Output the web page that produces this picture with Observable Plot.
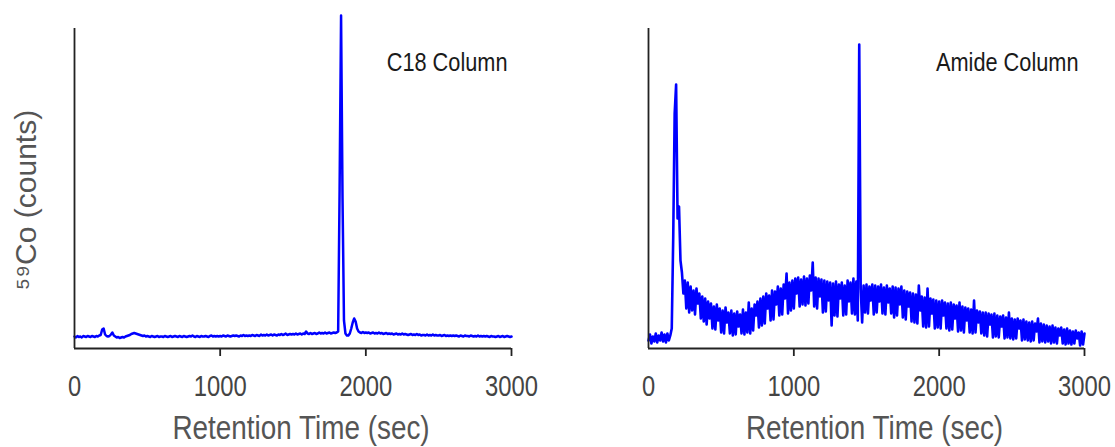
<!DOCTYPE html>
<html><head><meta charset="utf-8">
<script src="https://cdn.jsdelivr.net/npm/d3@7"></script>
<script src="https://cdn.jsdelivr.net/npm/@observablehq/plot@0.6"></script>
<style>
body{margin:0;background:#fff;}
#wrap{display:flex;width:1115px;height:447px;overflow:hidden;}
#wrap svg{overflow:visible;}
</style></head><body><div id="wrap"></div>
<script>
// sampling interval of the traces (seconds)
const timeStep = 10;

// C18 column trace, 59Co counts (arbitrary units), one value per 10 s from 0 to 3000 s
const c18Counts = [
12,11,12.5,11.5,12,11,12.5,12,11.5,12.5,
12,11.5,12.5,12,11.5,12.5,12,13,13.5,19,
20,14,12.5,12,12.5,14,16,13,12,11,
11.5,10.5,11,11.5,11,12,12.5,13,13.5,14.5,
15,15.5,15,14.5,14,13.5,13,12.5,13,12,
12.5,12,11.5,12.5,12,11.5,12,12.5,11.5,12,
12,11.5,12.5,12,11.5,12,12.5,11.5,12,12.5,
12,11.5,12.5,12,11.5,12.5,12,11.5,12,12.5,
12,13,12,11.5,12.5,12,11.5,12.5,12,12,
12.5,12,11.5,12.5,13,12,12.5,12,12.5,12,
12.5,12,13,12.5,12,13,12.5,12,12.5,13,
12.5,13,12.5,12,13,12.5,13.5,12.5,13,12.5,
13,12.5,13.5,13,12.5,13.5,13,12.5,14,13,
13.5,13,14,13,13.5,14,13,14,13.5,13,
14,13.5,14.5,13.5,14,15,13.5,14,14.5,14,
14.5,14,15,14,14.5,15,14,15,14.5,17,
15,14.5,15.5,14.5,15,15.5,14.5,15,16,15,
15.5,15,16,15,15.5,16,15,15.5,16,15.5,
16,17,160,333,150,28,15,13,13,15,
20,26,30,27,20,17,16,15.5,16.5,15.5,
16,15.5,16,15,15.5,16,15,15.5,15,16,
15,15.5,14.5,15,15.5,14.5,15,14.5,15,14,
14.5,15,14,14.5,14,15,14,14.5,14,13.5,
14,14.5,13.5,14,13.5,14.5,13.5,14,13,13.5,
13.5,13,14,13,13.5,13,14,13,13.5,13,
13,13.5,12.5,13,13.5,12.5,13,12.5,13,12.5,
13,12.5,13,12.5,12,13,12.5,12,13,12.5,
12.5,12,13,12.5,12,12.5,12,13,12,12.5,
12,12.5,12,12.5,12,11.5,12.5,12,12,11.5,
12,12.5,11.5,12,12.5,11.5,12,12.5,12,11.5,
12
];

// Amide column trace, 59Co counts (arbitrary units), one value per 10 s from 0 to 3000 s
const amideCounts = [
8,14,5,12,7,15,6,13,8,16,
7,14,6,15,8,13,20,110,235,264,
130,142,88,76,55,68,40,66,36,62,
38,58,34,60,45,55,30,52,27,50,
24,47,30,45,20,42,19,44,28,40,
16,38,15,41,26,36,15,38,13,35,
14,37,22,34,15,39,14,36,16,46,
15,40,18,44,33,47,21,50,23,52,
25,55,40,53,28,58,29,57,44,62,
33,60,34,64,50,75,35,66,38,68,
40,70,55,71,42,69,44,72,43,70,
45,73,58,86,42,71,40,70,52,69,
36,68,37,67,48,66,23,65,33,67,
32,64,50,66,33,63,34,68,47,66,
35,70,34,67,28,304,60,26,63,36,
64,35,62,48,64,34,63,36,62,47,
64,35,61,34,63,46,60,35,62,31,
61,33,60,44,62,31,58,29,57,42,
56,27,55,26,54,25,63,38,52,22,
51,21,60,22,50,35,49,20,48,21,
47,20,48,33,46,20,45,18,46,19,
44,30,43,17,46,18,42,16,41,28,
40,16,39,15,48,16,38,26,37,15,
36,13,36,12,35,24,34,11,35,12,
33,11,32,22,33,10,31,11,36,10,
30,9,29,10,30,20,28,8,29,9,
27,8,26,7,27,8,25,17,30,6,
25,7,24,6,23,7,22,5,23,6,
21,5,20,13,21,5,19,4,20,5,
18,4,17,5,18,10,16,3,17,4,
15
];

const panelLabels = ["C18 Column", "Amide Column"];
const xTicks = [0, 1000, 2000, 3000];
const xTitle = "Retention Time (sec)";
const yTitle = "\u2075\u2079Co (counts)";

const FONT = "'Liberation Sans', Arial, Helvetica, sans-serif";

function panel({values, label, width, marginLeft, marginRight, labelDx, withYTitle, lineWidth}) {
  const data = values.map((v, i) => ({t: i * timeStep, v}));
  const marks = [
    Plot.line(data, {x: "t", y: "v", stroke: "#0000ff", strokeWidth: lineWidth}),
    Plot.ruleX([0], {stroke: "#222", strokeWidth: 1.8}),
    Plot.ruleY([0], {stroke: "#222", strokeWidth: 1.8}),
    Plot.axisX({ticks: xTicks.slice(1), tickSize: 8, tickFormat: () => "", stroke: "#222", strokeWidth: 1.8, label: null}),
    Plot.text(xTicks, {x: d => d, text: d => String(d), frameAnchor: "bottom", lineAnchor: "middle", dy: 38.5, fontSize: 29, fill: "#444"}),
    Plot.text([xTitle], {frameAnchor: "bottom", textAnchor: "middle", lineAnchor: "middle", dx: 8, dy: 79.5, fontSize: 34, fill: "#555"}),
    Plot.text([label], {frameAnchor: "top-right", textAnchor: "end", lineAnchor: "middle", dx: labelDx, dy: 34.5, fontSize: 26.5, fill: "#1a1a1a"})
  ];
  if (withYTitle) {
    marks.push(Plot.text([yTitle], {frameAnchor: "left", textAnchor: "middle", lineAnchor: "middle", dx: -48, dy: 11.5, rotate: -90, fontSize: 30, fill: "#555"}));
  }
  return Plot.plot({
    width, height: 447,
    marginLeft, marginRight, marginTop: 28, marginBottom: 99,
    x: {domain: [0, 3000], axis: null},
    y: {domain: [0, 320], axis: null},
    style: {fontFamily: FONT, background: "white", overflow: "visible"},
    marks
  });
}

const wrap = document.getElementById("wrap");
wrap.appendChild(panel({values: c18Counts, label: panelLabels[0], width: 557, marginLeft: 74, marginRight: 46, labelDx: -4, withYTitle: true, lineWidth: 2.5}));
wrap.appendChild(panel({values: amideCounts, label: panelLabels[1], width: 558, marginLeft: 91, marginRight: 31, labelDx: -6, withYTitle: false, lineWidth: 2.6}));

// the reference uses a condensed face: compress horizontal texts to ~82% of their natural width
wrap.querySelectorAll("text").forEach(t => {
  if (t.textContent === yTitle) return;
  const w = t.getComputedTextLength();
  if (w > 0) {
    t.setAttribute("textLength", (w * 0.82).toFixed(1));
    t.setAttribute("lengthAdjust", "spacingAndGlyphs");
  }
});
</script>
</body></html>
